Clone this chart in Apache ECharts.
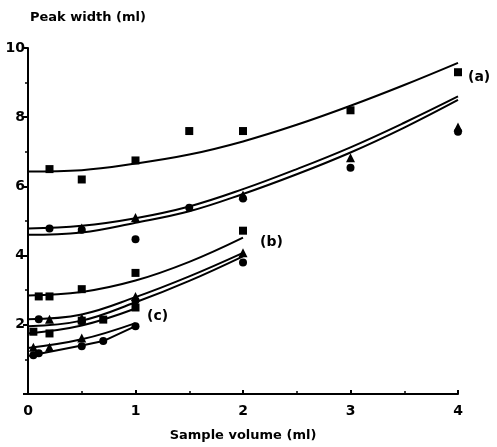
<!DOCTYPE html>
<html>
<head>
<meta charset="utf-8">
<script src="https://cdn.jsdelivr.net/npm/echarts@6/dist/echarts.min.js"></script>
<style>
  html, body { margin: 0; padding: 0; background: #fff; }
  #main { width: 497px; height: 447px; }
</style>
</head>
<body>
<div id="main"></div>
<script>
// fitted curves, group (a): 0..4 ml
var aFitX = [0, 0.5, 1, 1.5, 2, 2.5, 3, 3.5, 4];
var aSqFit = [6.43, 6.47, 6.66, 6.92, 7.3, 7.78, 8.33, 8.93, 9.57];
var aTriFit = [4.78, 4.86, 5.08, 5.42, 5.92, 6.5, 7.13, 7.84, 8.6];
var aCircFit = [4.6, 4.67, 4.95, 5.28, 5.78, 6.35, 6.98, 7.7, 8.5];

// group (b): 0..2 ml
var bFitX = [0, 0.5, 1, 1.5, 2];
var bSqFit = [2.85, 2.95, 3.28, 3.82, 4.52];
var bTriFit = [2.16, 2.3, 2.8, 3.4, 4.08];
var bCircFit = [1.96, 2.12, 2.65, 3.27, 3.98];

// group (c): 0..1 ml
var cFitX = [0, 0.5, 1];
var cSqFit = [1.75, 1.98, 2.47];
var cTriFit = [1.33, 1.58, 2.05];
var cCircLineX = [0, 0.5, 0.7, 1];
var cCircLine = [1.1, 1.4, 1.53, 1.96];

// measured points
var aSqX = [0.2, 0.5, 1, 1.5, 2, 3, 4];
var aSqY = [6.5, 6.2, 6.75, 7.6, 7.6, 8.2, 9.3];
var aTriX = [0.5, 1, 2, 3, 4];
var aTriY = [4.8, 5.1, 5.75, 6.83, 7.72];
var aCircX = [0.2, 0.5, 1, 1.5, 2, 3, 4];
var aCircY = [4.78, 4.75, 4.47, 5.38, 5.65, 6.54, 7.58];

var bSqX = [0.1, 0.2, 0.5, 1, 2];
var bSqY = [2.82, 2.82, 3.03, 3.5, 4.72];
var bTriX = [0.2, 0.5, 1, 2];
var bTriY = [2.16, 2.2, 2.82, 4.08];
var bCircX = [0.1, 0.5, 1, 2];
var bCircY = [2.16, 2.1, 2.7, 3.8];

var cSqX = [0.05, 0.2, 0.5, 0.7, 1];
var cSqY = [1.8, 1.75, 2.12, 2.15, 2.5];
var cTriX = [0.05, 0.2, 0.5];
var cTriY = [1.35, 1.35, 1.62];
var cCircX = [0.05, 0.1, 0.5, 0.7, 1];
var cCircY = [1.12, 1.18, 1.38, 1.53, 1.96];

function pairs(xs, ys) {
  return xs.map(function (x, i) { return [x, ys[i]]; });
}

function curve(xs, ys, smooth) {
  return {
    type: 'line',
    data: pairs(xs, ys),
    smooth: smooth ? 0.4 : false,
    showSymbol: false,
    silent: true,
    lineStyle: { color: '#000', width: 2 }
  };
}

function points(xs, ys, symbol, size) {
  return {
    type: 'scatter',
    data: pairs(xs, ys),
    symbol: symbol,
    symbolSize: size,
    itemStyle: { color: '#000', opacity: 1 },
    z: 3
  };
}

var chart = echarts.init(document.getElementById('main'));
var font = 'DejaVu Sans';

var option = {
  backgroundColor: '#fff',
  animation: false,
  grid: { left: 28, right: 39, top: 48, bottom: 52 },
  xAxis: {
    type: 'value',
    min: 0, max: 4, interval: 1,
    name: 'Sample volume (ml)',
    nameLocation: 'middle',
    nameGap: 35,
    nameTextStyle: { color: '#000', fontFamily: font, fontWeight: 'bold', fontSize: 13 },
    axisLine: { lineStyle: { color: '#000', width: 2 } },
    axisTick: { inside: true, length: 4, lineStyle: { color: '#000', width: 2 } },
    minorTick: { show: true, splitNumber: 2, length: 3, lineStyle: { color: '#000', width: 1.5 } },
    axisLabel: { color: '#000', fontFamily: font, fontWeight: 'bold', fontSize: 14, margin: 10 },
    splitLine: { show: false }
  },
  yAxis: {
    type: 'value',
    min: 0, max: 10, interval: 2,
    name: 'Peak width (ml)',
    nameLocation: 'end',
    nameGap: 24,
    nameTextStyle: { color: '#000', fontFamily: font, fontWeight: 'bold', fontSize: 13, align: 'left', padding: [0, 0, 0, 2] },
    axisLine: { lineStyle: { color: '#000', width: 2 } },
    axisTick: { inside: false, length: 5, lineStyle: { color: '#000', width: 2 } },
    minorTick: { show: true, splitNumber: 2, length: 3, lineStyle: { color: '#000', width: 1.5 } },
    axisLabel: { color: '#000', fontFamily: font, fontWeight: 'bold', fontSize: 14, margin: 3, showMinLabel: false },
    splitLine: { show: false }
  },
  graphic: [
    { type: 'text', left: 468, top: 70, style: { text: '(a)', fill: '#000', font: 'bold 14px "DejaVu Sans"' } },
    { type: 'text', left: 260, top: 235, style: { text: '(b)', fill: '#000', font: 'bold 14px "DejaVu Sans"' } },
    { type: 'text', left: 147, top: 309, style: { text: '(c)', fill: '#000', font: 'bold 14px "DejaVu Sans"' } }
  ],
  series: [
    curve(aFitX, aSqFit, true),
    curve(aFitX, aTriFit, true),
    curve(aFitX, aCircFit, true),
    curve(bFitX, bSqFit, true),
    curve(bFitX, bTriFit, true),
    curve(bFitX, bCircFit, true),
    curve(cFitX, cSqFit, true),
    curve(cFitX, cTriFit, true),
    curve(cCircLineX, cCircLine, false),
    points(aSqX, aSqY, 'rect', 8),
    points(aTriX, aTriY, 'triangle', 9),
    points(aCircX, aCircY, 'circle', 8),
    points(bSqX, bSqY, 'rect', 8),
    points(bTriX, bTriY, 'triangle', 9),
    points(bCircX, bCircY, 'circle', 8),
    points(cSqX, cSqY, 'rect', 8),
    points(cTriX, cTriY, 'triangle', 9),
    points(cCircX, cCircY, 'circle', 8)
  ]
};

chart.setOption(option);
</script>
</body>
</html>
